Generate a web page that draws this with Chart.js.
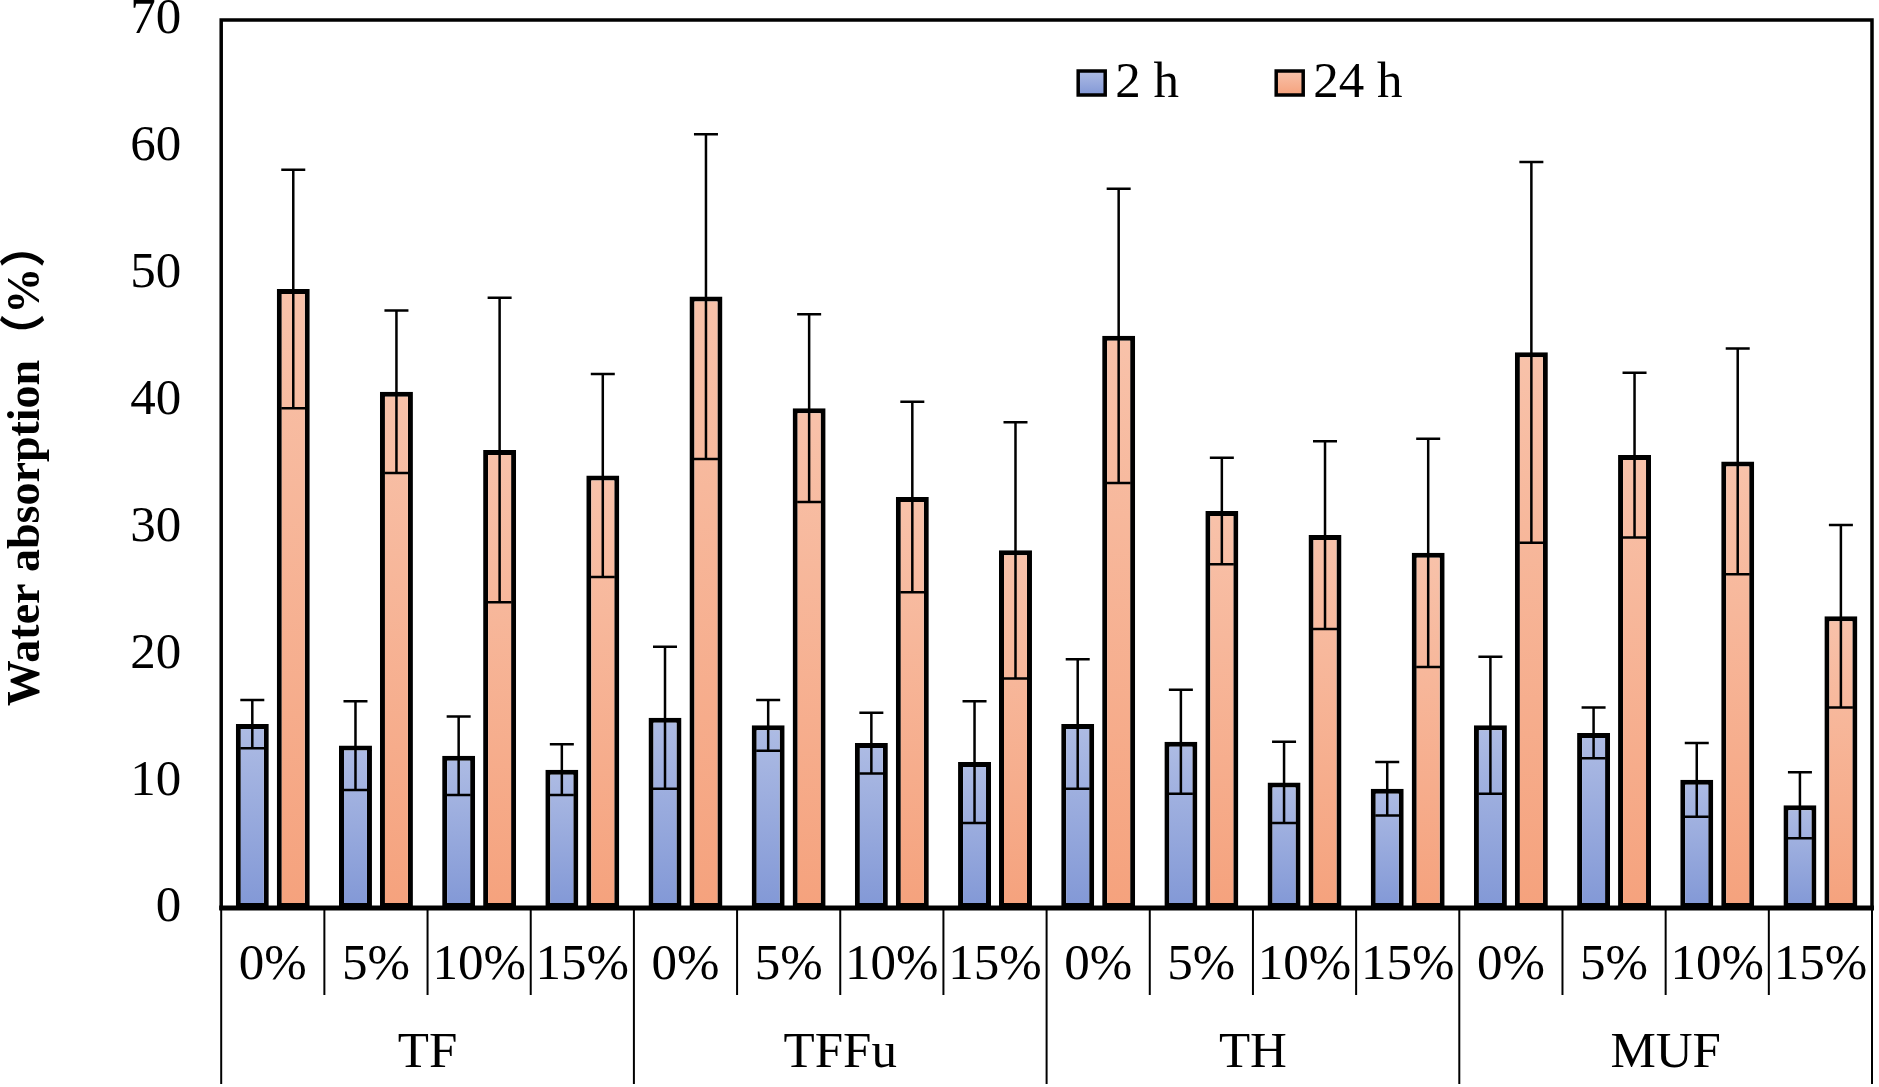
<!DOCTYPE html>
<html>
<head>
<meta charset="utf-8">
<script src="https://cdn.jsdelivr.net/npm/chart.js@4"></script>
<style>
  body { margin: 0; background: #fff; }
  #wrap { width: 1879px; height: 1087px; }
</style>
</head>
<body>
<div id="wrap"><canvas id="absorption-chart"></canvas></div>
<script>
// values
const groups = ['TF', 'TFFu', 'TH', 'MUF'];
const levels = ['0%', '5%', '10%', '15%'];
const labels = groups.flatMap(g => levels.map(l => g + ' ' + l));

const wa2h = [14.5, 12.8, 12.0, 10.9, 15.0, 14.4, 13.0, 11.5, 14.5, 13.1, 9.9, 9.4, 14.4, 13.8, 10.1, 8.1];
const err2h = [1.9, 3.5, 3.1, 2.0, 5.6, 2.0, 2.4, 4.8, 5.1, 4.1, 3.2, 2.1, 5.4, 2.0, 2.9, 2.6];
const wa24h = [48.8, 40.7, 36.1, 34.1, 48.2, 39.4, 32.4, 28.2, 45.1, 31.3, 29.4, 28.0, 43.8, 35.7, 35.2, 23.0];
const err24h = [9.4, 6.4, 12.0, 8.0, 12.8, 7.4, 7.5, 10.1, 11.6, 4.2, 7.4, 9.0, 15.0, 6.5, 8.9, 7.2];
const yTicks = [0, 10, 20, 30, 40, 50, 60, 70];

const serif = '"Liberation Serif", "Times New Roman", serif';

// vertical gradient inside each bar, lighter at the top
function barGradient(light, dark) {
  return function (ctx) {
    const chart = ctx.chart;
    if (!chart.chartArea || ctx.parsed === undefined) return dark;
    const y = chart.scales.y;
    const top = y.getPixelForValue(ctx.parsed.y);
    const base = y.getPixelForValue(0);
    const g = chart.ctx.createLinearGradient(0, top, 0, base);
    g.addColorStop(0, light);
    g.addColorStop(1, dark);
    return g;
  };
}

const blue = ['#aebce4', '#8298d6'];
const orange = ['#f8c2aa', '#f5a27d'];

const errorBars = {
  id: 'errorBars',
  afterDatasetsDraw(chart) {
    const ctx = chart.ctx;
    const y = chart.scales.y;
    const errs = [err2h, err24h];
    ctx.save();
    ctx.strokeStyle = '#000';
    ctx.lineWidth = 2.5;
    chart.data.datasets.forEach((ds, i) => {
      chart.getDatasetMeta(i).data.forEach((bar, j) => {
        const v = ds.data[j], e = errs[i][j];
        const yt = y.getPixelForValue(v + e), yb = y.getPixelForValue(v - e);
        ctx.beginPath();
        ctx.moveTo(bar.x, yt); ctx.lineTo(bar.x, yb);
        ctx.moveTo(bar.x - 12, yt); ctx.lineTo(bar.x + 12, yt);
        ctx.moveTo(bar.x - 12, yb); ctx.lineTo(bar.x + 12, yb);
        ctx.stroke();
      });
    });
    ctx.restore();
  }
};

const frameAndAxis = {
  id: 'frameAndAxis',
  afterDraw(chart) {
    const ctx = chart.ctx;
    const a = chart.chartArea;
    const x = chart.scales.x;
    const n = labels.length;
    const step = (a.right - a.left) / n;
    ctx.save();
    // plot frame
    ctx.strokeStyle = '#000';
    ctx.lineWidth = 3.5;
    ctx.strokeRect(a.left, a.top, a.right - a.left, a.bottom - a.top);
    ctx.lineWidth = 5;
    ctx.beginPath(); ctx.moveTo(a.left - 2, a.bottom); ctx.lineTo(a.right + 2, a.bottom); ctx.stroke();

    // separators under the axis
    ctx.lineWidth = 2;
    for (let i = 0; i <= n; i++) {
      const px = i < n ? x.getPixelForValue(i) - step / 2 : x.getPixelForValue(n - 1) + step / 2;
      const len = i % levels.length === 0 ? 176 : 87;
      ctx.beginPath(); ctx.moveTo(px, a.bottom); ctx.lineTo(px, a.bottom + len); ctx.stroke();
    }

    // level and group labels
    ctx.fillStyle = '#000';
    ctx.textAlign = 'center';
    ctx.textBaseline = 'middle';
    ctx.font = '51px ' + serif;
    labels.forEach((l, i) => {
      ctx.fillText(levels[i % levels.length], x.getPixelForValue(i), a.bottom + 58);
    });
    groups.forEach((g, gi) => {
      const first = x.getPixelForValue(gi * levels.length);
      const last = x.getPixelForValue(gi * levels.length + levels.length - 1);
      ctx.fillText(g, (first + last) / 2, a.bottom + 146);
    });

    // legend
    const items = [
      { text: '2 h', col: blue, bx: a.left + 857 },
      { text: '24 h', col: orange, bx: a.left + 1055 }
    ];
    ctx.textAlign = 'left';
    ctx.textBaseline = 'alphabetic';
    items.forEach(it => {
      const top = a.top + 51, h = 24, w = 27;
      const g = ctx.createLinearGradient(0, top, 0, top + h);
      g.addColorStop(0, it.col[0]); g.addColorStop(1, it.col[1]);
      ctx.fillStyle = g;
      ctx.fillRect(it.bx, top, w, h);
      ctx.lineWidth = 3.5;
      ctx.strokeRect(it.bx, top, w, h);
      ctx.fillStyle = '#000';
      ctx.fillText(it.text, it.bx + 37, a.top + 77);
    });
    ctx.restore();
  }
};

const ctx = document.getElementById('absorption-chart').getContext('2d');
const absorptionChart = new Chart(ctx, {
  type: 'bar',
  data: {
    labels: labels,
    datasets: [
      {
        label: '2 h',
        data: wa2h,
        backgroundColor: barGradient(blue[0], blue[1]),
        borderColor: '#000',
        borderWidth: 5,
        borderSkipped: false,
        categoryPercentage: 0.794,
        barPercentage: 0.805
      },
      {
        label: '24 h',
        data: wa24h,
        backgroundColor: barGradient(orange[0], orange[1]),
        borderColor: '#000',
        borderWidth: 5,
        borderSkipped: false,
        categoryPercentage: 0.794,
        barPercentage: 0.805
      }
    ]
  },
  options: {
    responsive: true,
    maintainAspectRatio: false,
    animation: false,
    layout: { padding: { top: 20, right: 7, bottom: 179, left: 0 } },
    plugins: {
      legend: { display: false },
      tooltip: { enabled: false }
    },
    scales: {
      x: { display: false },
      y: {
        min: 0,
        max: 70,
        afterBuildTicks(scale) { scale.ticks = yTicks.map(v => ({ value: v })); },
        // the tick padding should only push labels sideways, not shrink the plot
        afterFit(scale) { scale.paddingTop = 0; scale.paddingBottom = 0; },
        grid: { display: false, drawTicks: false },
        border: { display: false },
        ticks: {
          color: '#000',
          padding: 40,
          font: { family: serif, size: 51 }
        },
        title: {
          display: true,
          text: 'Water absorption（%）',
          color: '#000',
          padding: { top: 0, bottom: 35 },
          font: { family: serif + ', "Noto Sans CJK SC"', size: 46, weight: 'bold' }
        }
      }
    }
  },
  plugins: [errorBars, frameAndAxis]
});
</script>
</body>
</html>
